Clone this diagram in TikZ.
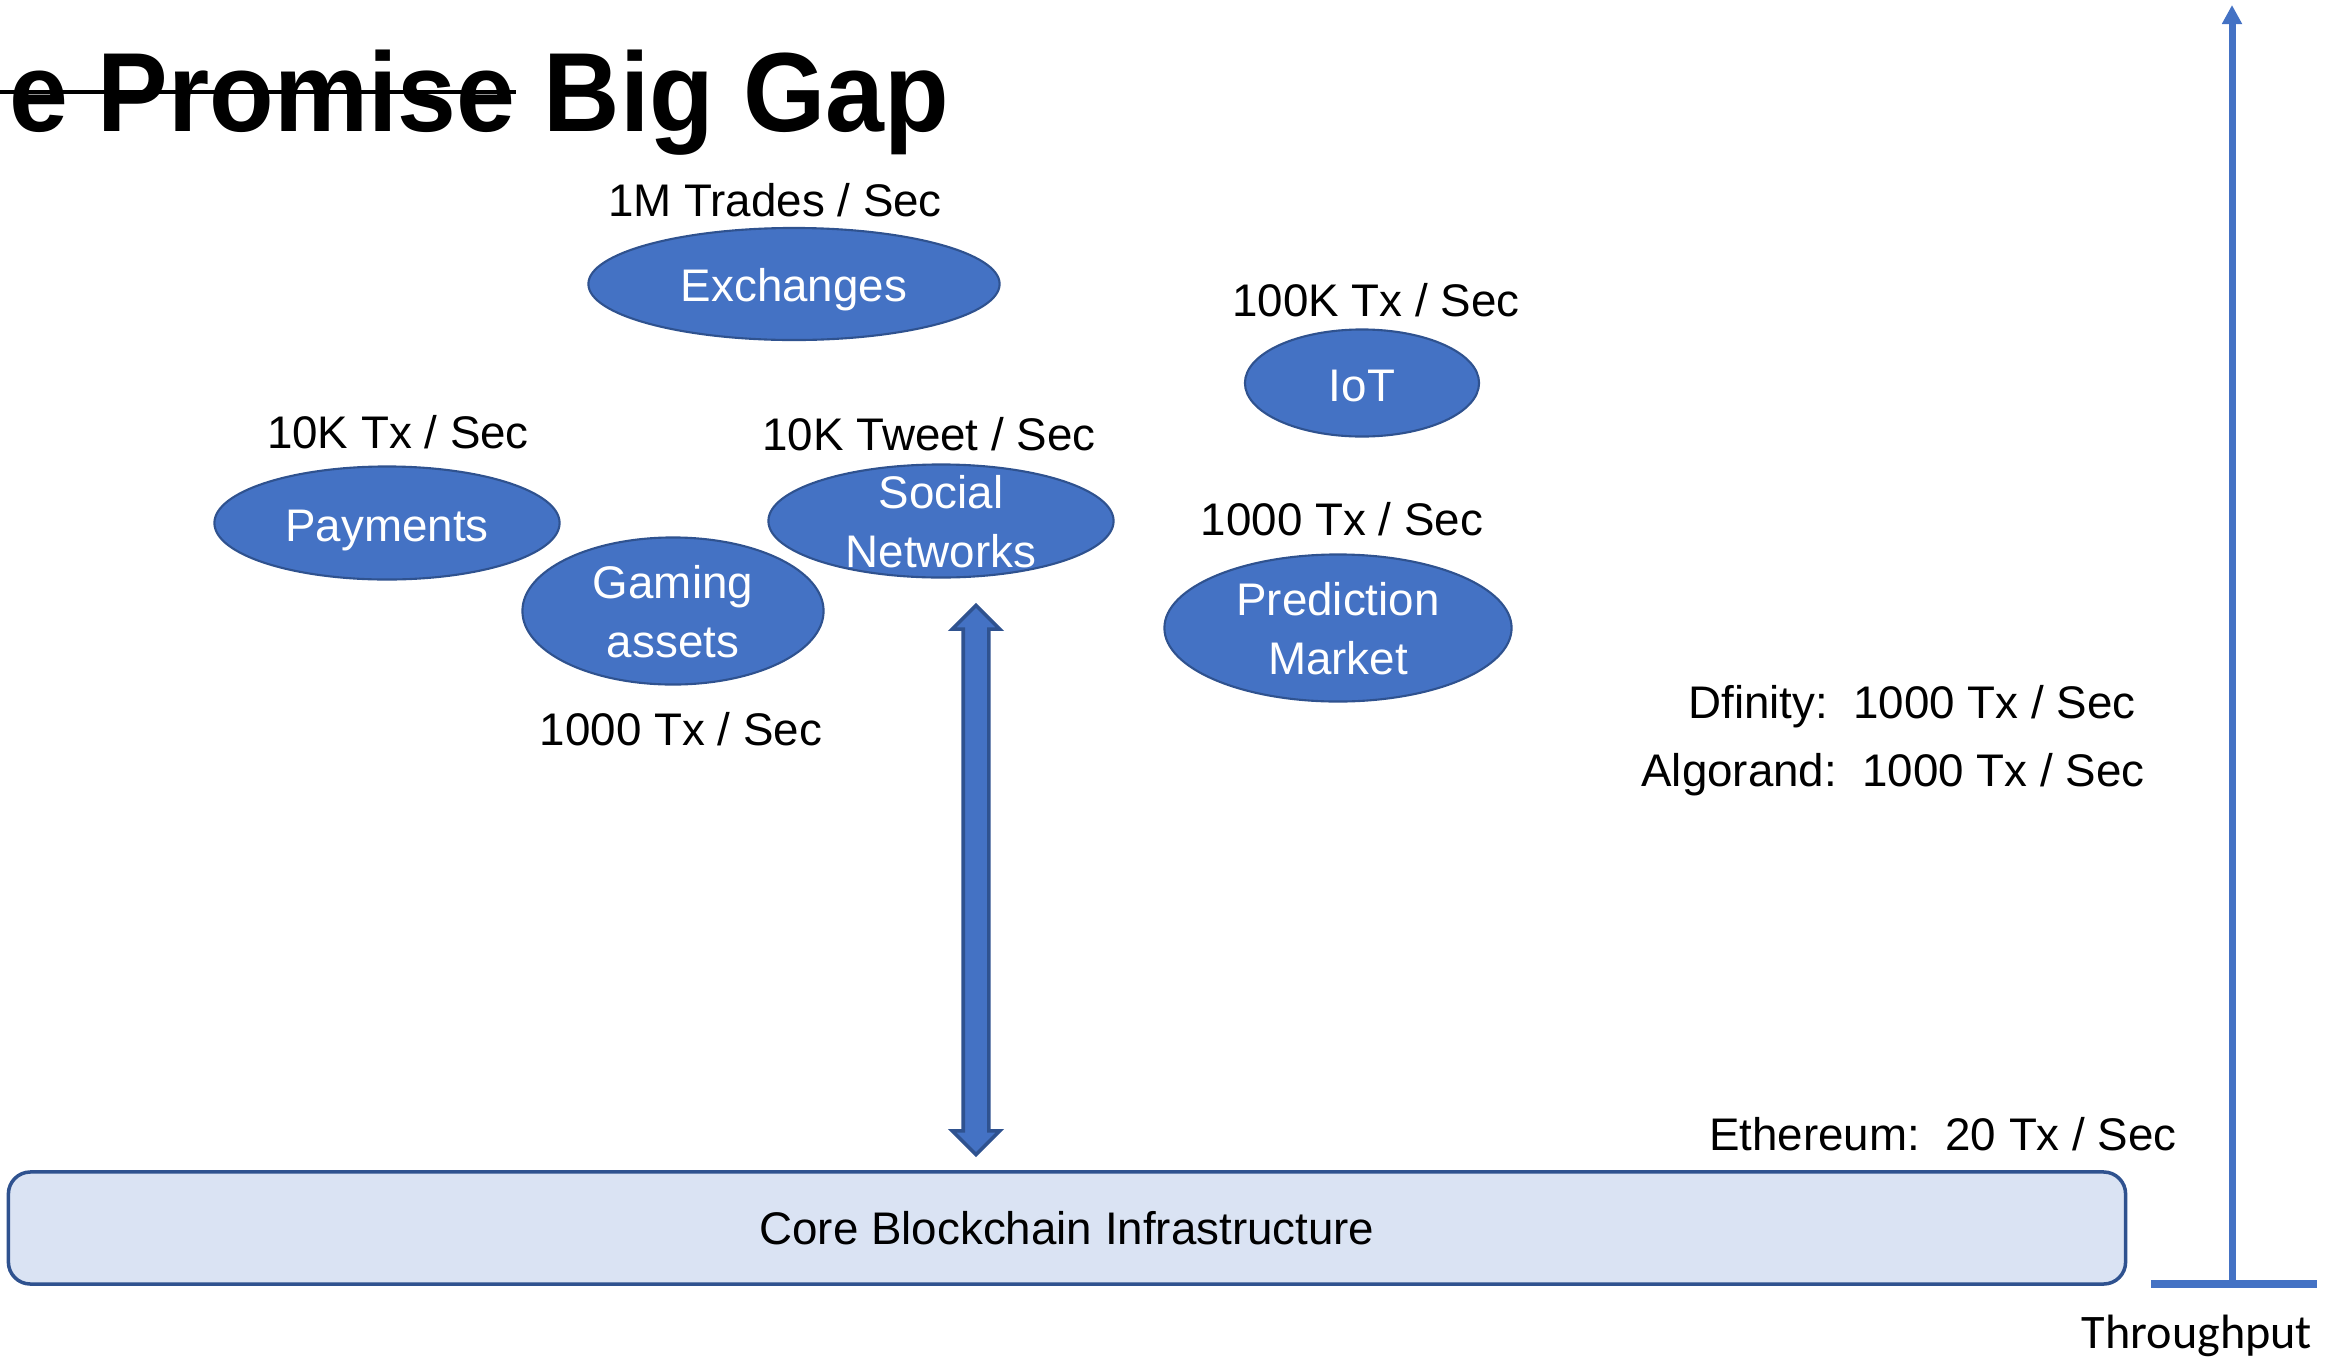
\documentclass[tikz,border=0pt]{standalone}
\usepackage{fontspec}
\setmainfont{Liberation Sans}
\newfontfamily\titlefont[FakeStretch=0.94]{Liberation Sans}
\newfontfamily\axisfont{Carlito}
\usetikzlibrary{arrows.meta,shapes.arrows,shapes.geometric}
\definecolor{appblue}{HTML}{4472C4}
\definecolor{edgeblue}{HTML}{2F528F}
\definecolor{corefill}{HTML}{DAE3F3}

\begin{document}
\begin{tikzpicture}[x=0.01cm, y=-0.01cm,
  app/.style={ellipse, draw=edgeblue, line width=0.6pt, fill=appblue, inner sep=0pt},
  apptext/.style={text=white, font=\fontsize{13}{16.8}\selectfont, align=center, inner sep=0pt},
  rate/.style={font=\fontsize{13}{16}\selectfont, anchor=base, inner sep=0pt},
  titletext/.style={inner sep=0pt, font=\titlefont\bfseries\fontsize{32}{36}\selectfont},
  axisline/.style={draw=appblue, line width=2pt}]
  \useasboundingbox (0,0) rectangle (2335,1357);
  \clip (0,0) rectangle (2335,1357);

  % title
  \node[titletext, anchor=base east] (promise) at (516,131) {e Promise};
  \node[titletext, anchor=base west] (biggap) at (543,131) {Big Gap};
  \coordinate (strike) at (0,92);
  \draw[line width=1.4pt] (strike) -- (promise.east |- strike);

  % applications
  \node[app, minimum width=4.11cm, minimum height=1.12cm] (exch) at (794,284) {};
  \node[app, minimum width=2.34cm, minimum height=1.07cm] (iot) at (1362,383) {};
  \node[app, minimum width=3.45cm, minimum height=1.13cm] (pay) at (387,523) {};
  \node[app, minimum width=3.01cm, minimum height=1.47cm] (game) at (673,611) {};
  \node[app, minimum width=3.45cm, minimum height=1.13cm] (social) at (941,521) {};
  \node[app, minimum width=3.47cm, minimum height=1.47cm] (pred) at (1338,628) {};

  \node[apptext, anchor=base] (exchtext) at (794,301) {Exchanges};
  \node[apptext, anchor=base] (iottext) at (1362,401) {IoT};
  \node[apptext, anchor=base] (paytext) at (387,541) {Payments};
  \node[apptext] (gametext) at (673,612) {Gaming\\assets};
  \node[apptext] (socialtext) at (941,522) {Social\\Networks};
  \node[apptext] (predtext) at (1338,629) {Prediction\\Market};

  % rates
  \node[rate] (exchrate) at (775,216) {1M Trades / Sec};
  \node[rate] (iotrate) at (1376,316) {100K Tx / Sec};
  \node[rate] (payrate) at (398,448) {10K Tx / Sec};
  \node[rate] (socialrate) at (929,450) {10K Tweet / Sec};
  \node[rate] (gamerate) at (681,745) {1000 Tx / Sec};
  \node[rate] (predrate) at (1342,535) {1000 Tx / Sec};
  \node[rate] (dfinity) at (1912,718) {Dfinity:~~1000 Tx / Sec};
  \node[rate] (algorand) at (1893,786) {Algorand:~~1000 Tx / Sec};
  \node[rate] (ethereum) at (1943,1150) {Ethereum:~~20 Tx / Sec};

  % infrastructure
  \node[draw=edgeblue, line width=1pt, fill=corefill, rounded corners=0.22cm,
        minimum width=21.16cm, minimum height=1.12cm, inner sep=0pt,
        font=\fontsize{13}{16}\selectfont] (core) at (1067,1228) {Core Blockchain Infrastructure};
  \node[double arrow, rotate=90, draw=edgeblue, line width=1pt, fill=appblue, inner sep=0.11cm,
        minimum height=5.49cm, double arrow head extend=0.11cm, double arrow tip angle=90] (gaparrow) at (976,880) {};

  % throughput axis
  \coordinate (axbase) at (2232,1284);
  \coordinate (axtop) at (2232,5);
  \coordinate (axleft) at (2151,1284);
  \coordinate (axright) at (2317,1284);
  \draw[axisline, -{Triangle[width=0.19cm,length=0.19cm]}] (axbase) -- (axtop);
  \draw[axisline] (axleft) -- (axright);
  \node[anchor=base, inner sep=0pt, font=\axisfont\fontsize{13.7}{16}\selectfont] (thru) at (2197,1348) {Throughput};
\end{tikzpicture}
\end{document}
